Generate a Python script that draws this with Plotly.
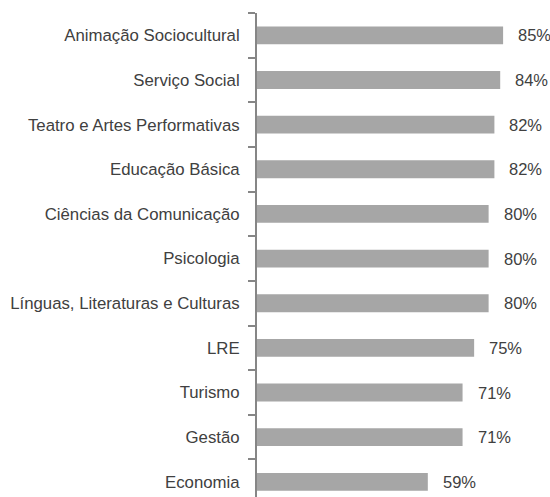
import plotly.graph_objects as go

categories = [
    "Animação Sociocultural",
    "Serviço Social",
    "Teatro e Artes Performativas",
    "Educação Básica",
    "Ciências da Comunicação",
    "Psicologia",
    "Línguas, Literaturas e Culturas",
    "LRE",
    "Turismo",
    "Gestão",
    "Economia",
]
values = [85, 84, 82, 82, 80, 80, 80, 75, 71, 71, 59]
value_labels = ["85%", "84%", "82%", "82%", "80%", "80%", "80%", "75%", "71%", "71%", "59%"]

FONT = "Liberation Sans, Arial, sans-serif"
TEXT_COLOR = "#404040"

fig = go.Figure()
fig.add_trace(go.Bar(
    x=values,
    y=categories,
    orientation="h",
    marker=dict(color="#A6A6A6", line=dict(width=0)),
    width=0.4,
    hoverinfo="skip",
))

for c, v, t in zip(categories, values, value_labels):
    fig.add_annotation(
        x=v, y=c, text=t, showarrow=False,
        xanchor="left", yanchor="middle", xshift=13,
        font=dict(family=FONT, size=16.5, color=TEXT_COLOR),
    )

fig.update_layout(
    width=550, height=497,
    margin=dict(l=257, r=0, t=12.6, b=0, autoexpand=False),
    paper_bgcolor="white", plot_bgcolor="white",
    showlegend=False,
    font=dict(family=FONT, size=16.8, color=TEXT_COLOR),
    xaxis=dict(range=[0, 101.2], visible=False),
    yaxis=dict(
        type="category",
        categoryorder="array", categoryarray=categories,
        range=[10.34, -0.5],
        showline=True, linecolor="#868686", linewidth=2,
        ticks="outside", tickson="boundaries", ticklen=7,
        tickcolor="#868686", tickwidth=1.5,
        showgrid=False, zeroline=False,
        ticklabelstandoff=12,
        tickfont=dict(family=FONT, size=16.8, color=TEXT_COLOR),
    ),
)

fig.write_html(
    "out.html",
    config={"displayModeBar": False},
    post_script="document.body.style.margin='0';",
)
